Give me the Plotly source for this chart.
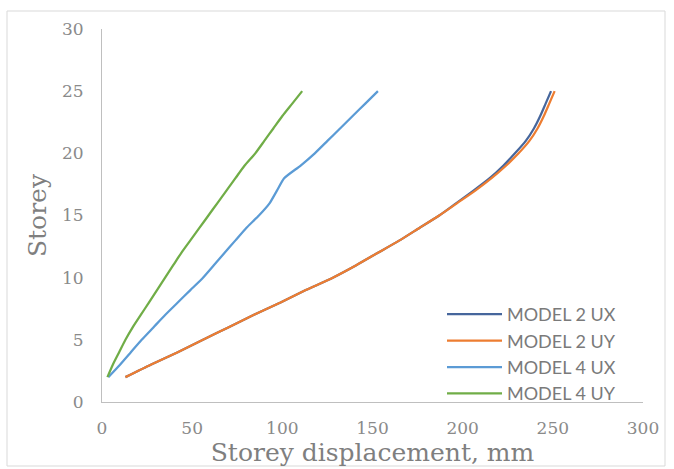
import plotly.graph_objects as go

storeys = list(range(2, 26))

model2_ux = [13, 27, 42, 56, 70, 84, 99, 113, 128, 141, 153, 165, 176, 187, 196.5, 206, 215, 222.5, 229, 235, 239.5, 243, 246, 249]
model2_uy = [13, 27, 42, 56, 70, 84, 99, 113, 128, 141, 153, 165, 176, 187, 197, 207, 216, 224, 231, 237, 241.5, 245, 248, 251]
model4_ux = [3.5, 10, 16, 22, 28.5, 35, 42, 49, 56, 62, 68, 74, 80, 87, 93, 97, 101, 110, 118, 125, 132, 139, 146, 153]
model4_uy = [3, 6, 9.5, 13, 17, 21.5, 26, 30.5, 35, 39.5, 44, 49, 54, 59, 64, 69, 74, 79, 85, 90, 95, 100, 105.5, 111]

series_names = ["MODEL 2 UX", "MODEL 2 UY", "MODEL 4 UX", "MODEL 4 UY"]
series_values = [model2_ux, model2_uy, model4_ux, model4_uy]
colors = ["#46669C", "#ED7D31", "#5B9BD5", "#70AD47"]

x_ticks = [0, 50, 100, 150, 200, 250, 300]
y_ticks = [0, 5, 10, 15, 20, 25, 30]

fig = go.Figure()
for i, (name, vals, col) in enumerate(zip(series_names, series_values, colors)):
    fig.add_trace(go.Scatter(
        x=vals, y=storeys, mode="lines", name=name,
        line=dict(color=col, width=2.25, shape="spline", smoothing=0.5),
        legendgroup=f"g{i}",
    ))

tick_font = dict(family="DejaVu Serif", size=17, color="#8a8a8a")
title_font = dict(family="DejaVu Serif", size=25, color="#7f7f7f")

fig.update_layout(
    width=674, height=469,
    margin=dict(l=102, r=31, t=29, b=67),
    paper_bgcolor="white", plot_bgcolor="white",
    showlegend=True,
    legend=dict(
        x=(442 - 102) / 541, y=(402 - 296) / 373, xanchor="left", yanchor="top",
        font=dict(family="Lato", size=18, color="#7a7a7a"),
        bgcolor="rgba(0,0,0,0)", tracegroupgap=0, itemwidth=55,
    ),
    xaxis=dict(
        range=[0, 300], tickvals=x_ticks, showgrid=False, zeroline=False,
        showline=True, linecolor="#bfbfbf", linewidth=1,
        tickfont=tick_font, ticklabelstandoff=11,
        title=dict(text="Storey displacement, mm", font=title_font, standoff=0),
    ),
    yaxis=dict(
        range=[0, 30], tickvals=y_ticks, showgrid=False, zeroline=False,
        showline=True, linecolor="#bfbfbf", linewidth=1,
        tickfont=tick_font, ticklabelstandoff=14,
        title=dict(text="Storey", font=title_font, standoff=8),
    ),
    shapes=[dict(
        type="rect", xref="paper", yref="paper",
        x0=(7 - 102) / 541, x1=(665 - 102) / 541,
        y0=(402 - 466) / 373, y1=(402 - 11) / 373,
        line=dict(color="#d9d9d9", width=1), fillcolor="rgba(0,0,0,0)", layer="below",
    )],
)

fig.write_html(
    "out.html",
    config={"displayModeBar": False},
    post_script="document.body.style.margin='0';document.body.style.overflow='hidden';",
)
